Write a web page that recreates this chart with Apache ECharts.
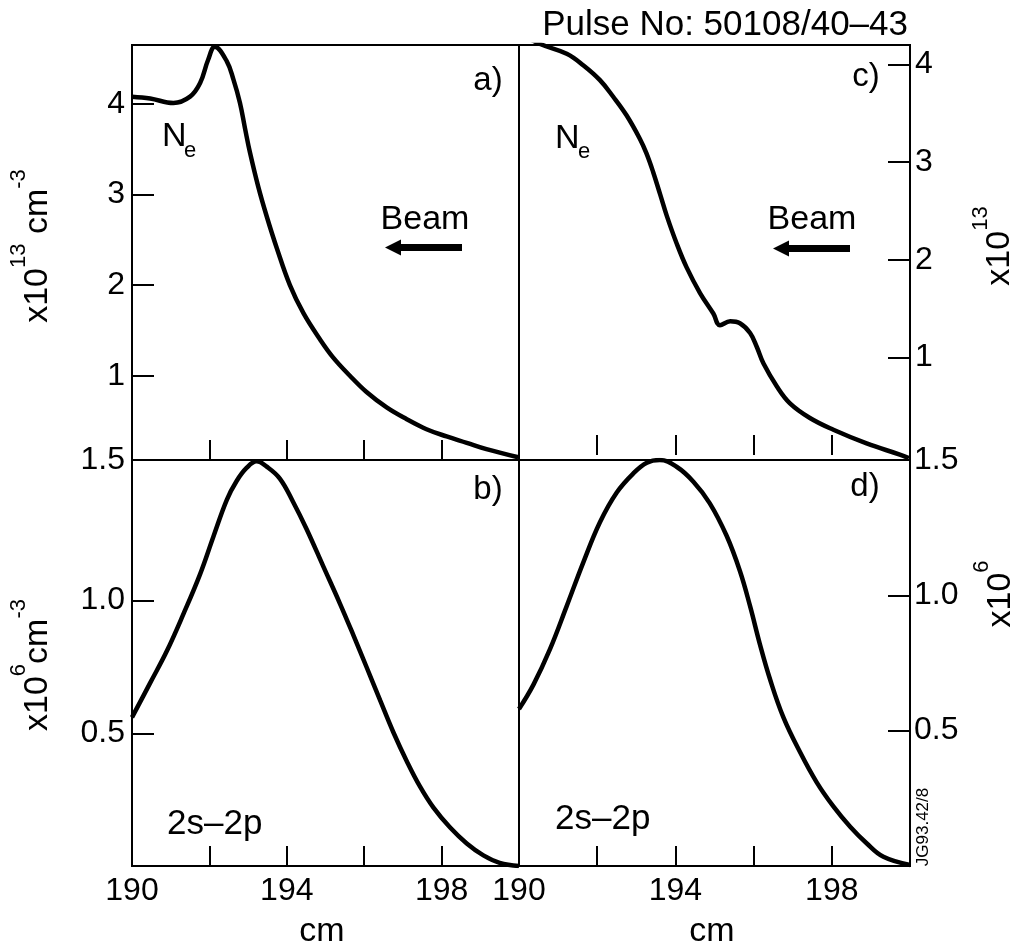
<!DOCTYPE html>
<html><head><meta charset="utf-8">
<script src="https://cdn.jsdelivr.net/npm/echarts@6/dist/echarts.min.js"></script>
<style>html,body{margin:0;padding:0;background:#fff}#c{width:1018px;height:949px}</style>
</head><body><div id="c"></div>
<script>
const FONT = 'Liberation Sans, Arial, Helvetica, sans-serif';

// tick labels
const xTickLabels = [190, 194, 198];
const neTickValues = [1, 2, 3, 4];
const lineTickValues = [0.5, 1.0];
const lineLabelValuesB = [0.5, 1.0, 1.53];
const lineLabelValuesD = [0.5, 1.0, 1.5];

// panel a) electron density (x10^13 cm^-3) vs position (cm)
const aPos = [190.0,190.47,191.07,191.5,191.76,191.97,192.14,192.45,192.62,192.79,192.92,193.05,193.26,193.48,193.74,194.08,194.43,194.86,195.2,195.63,196.06,196.58,197.1,197.61,198.13,198.65,199.16,199.98];
const aNe  = [4.08,4.06,4.01,4.08,4.23,4.49,4.63,4.47,4.27,4.01,3.73,3.46,3.09,2.76,2.41,2.00,1.69,1.40,1.20,1.00,0.82,0.65,0.52,0.41,0.33,0.26,0.19,0.10];

// panel c) electron density (x10^13)
const cPos = [190.0,190.54,191.22,191.65,192.07,192.41,192.75,193.09,193.26,193.43,193.61,193.78,194.03,194.29,194.63,194.97,195.14,195.4,195.65,195.91,196.08,196.25,196.6,196.93,197.44,198.04,198.89,199.74,199.97];
const cNe  = [4.32,4.21,4.11,3.99,3.84,3.67,3.48,3.24,3.09,2.90,2.67,2.45,2.17,1.92,1.66,1.45,1.33,1.37,1.35,1.25,1.11,0.94,0.70,0.53,0.38,0.26,0.12,0.005,-0.03];

// panel b) 2s-2p population (x10^6 cm^-3)
const bPos = [190.0,190.47,190.9,191.33,191.76,192.1,192.45,192.7,192.96,193.22,193.48,193.82,194.17,194.51,194.94,195.37,195.72,196.06,196.41,196.75,197.1,197.44,197.79,198.22,198.65,199.08,199.5,200];
const bVal = [0.56,0.69,0.81,0.95,1.10,1.24,1.38,1.45,1.50,1.525,1.505,1.46,1.37,1.27,1.13,0.99,0.87,0.75,0.625,0.505,0.395,0.30,0.22,0.145,0.085,0.04,0.012,0.0];

// panel d) 2s-2p population (x10^6)
const dPos = [190,190.37,190.79,191.22,191.64,192.07,192.5,192.92,193.27,193.6,194.03,194.46,194.88,195.31,195.65,195.91,196.16,196.42,196.76,197.19,197.61,198.04,198.47,198.89,199.32,200];
const dVal = [0.58,0.67,0.80,0.96,1.12,1.27,1.38,1.45,1.49,1.50,1.475,1.42,1.34,1.22,1.09,0.96,0.82,0.69,0.55,0.42,0.31,0.22,0.145,0.084,0.034,0.004];

const zip = (xs, ys) => xs.map((x, i) => [x, ys[i]]);

const gridBase = {show: true, borderColor: '#000', borderWidth: 2, backgroundColor: 'transparent'};
const lbl = {color: '#000', fontSize: 32, fontFamily: FONT};

function xAx(gi, withLabels) {
  return {
    type: 'value', gridIndex: gi, min: 190, max: 200, interval: 2,
    axisLine: {show: false}, splitLine: {show: false},
    axisTick: {inside: true, length: 20, lineStyle: {color: '#000', width: 2}},
    axisLabel: withLabels ? Object.assign({customValues: xTickLabels, margin: 9}, lbl) : {show: false}
  };
}
function yAx(gi, pos, min, max, ticks, labels, fmt, margin) {
  return {
    type: 'value', gridIndex: gi, position: pos, min: min, max: max,
    axisLine: {show: false}, splitLine: {show: false},
    axisTick: {inside: true, length: 22, customValues: ticks, lineStyle: {color: '#000', width: 2}},
    axisLabel: Object.assign({customValues: labels, formatter: fmt, margin: margin}, lbl)
  };
}
const intFmt = v => String(Math.round(v));
const decFmt = v => (Math.round(v * 10) / 10).toFixed(1);

function lineSeries(xi, data) {
  return {
    type: 'line', xAxisIndex: xi, yAxisIndex: xi, data: data,
    showSymbol: false, smooth: 0.4, clip: true,
    lineStyle: {color: '#000', width: 4.5}, silent: true, animation: false
  };
}

function txt(x, y, text, size, align, extra) {
  return Object.assign({
    type: 'text', x: x, y: y, silent: true, z: 100,
    style: {text: text, fontSize: size, fontFamily: FONT, fill: '#000', align: align || 'center', verticalAlign: 'middle'}
  }, extra || {});
}

// rotated axis titles built from pieces (normal + superscript)
const measureCtx = document.createElement('canvas').getContext('2d');
function measure(text, size) {
  measureCtx.font = size + 'px ' + FONT;
  return measureCtx.measureText(text).width;
}
function rotTitle(xBase, yCenter, pieces) {
  const BIG = 34, SUP = 22;
  const widths = pieces.map(p => measure(p[0], p[1] ? SUP : BIG));
  const total = widths.reduce((s, w) => s + w, 0);
  let cur = yCenter + total / 2;
  return pieces.map((p, i) => {
    const el = {
      type: 'text', x: p[1] ? xBase - 19.5 : xBase, y: cur, rotation: Math.PI / 2, silent: true, z: 100,
      style: {text: p[0], fontSize: p[1] ? SUP : BIG, fontFamily: FONT, fill: '#000', align: 'left', verticalAlign: 'middle'}
    };
    cur -= widths[i];
    return el;
  });
}
function arrow(tipX, cy, endX) {
  const hb = tipX + 16;
  return {
    type: 'polygon', silent: true, z: 100,
    shape: {points: [[tipX, cy], [hb, cy - 8], [hb, cy - 3.5], [endX, cy - 3.5], [endX, cy + 3.5], [hb, cy + 3.5], [hb, cy + 8]]},
    style: {fill: '#000'}
  };
}

const chart = echarts.init(document.getElementById('c'), null, {renderer: 'canvas'});
chart.setOption({
  backgroundColor: '#fff',
  animation: false,
  grid: [
    Object.assign({left: 132, top: 45, width: 387, height: 415}, gridBase),
    Object.assign({left: 519, top: 45, width: 391, height: 415}, gridBase),
    Object.assign({left: 132, top: 460, width: 387, height: 406}, gridBase),
    Object.assign({left: 519, top: 460, width: 391, height: 406}, gridBase)
  ],
  xAxis: [xAx(0, false), xAx(1, false), xAx(2, true), xAx(3, true)],
  yAxis: [
    yAx(0, 'left', 0.07, 4.65, neTickValues, neTickValues, intFmt, 7),
    yAx(1, 'right', -0.05, 4.2, neTickValues, neTickValues, intFmt, 5),
    yAx(2, 'left', 0, 1.53, lineTickValues, lineLabelValuesB, decFmt, 7),
    yAx(3, 'right', 0, 1.5, lineTickValues, lineLabelValuesD, decFmt, 4)
  ],
  series: [
    lineSeries(0, zip(aPos, aNe)),
    lineSeries(1, zip(cPos, cNe)),
    lineSeries(2, zip(bPos, bVal)),
    lineSeries(3, zip(dPos, dVal))
  ],
  graphic: [
    txt(908, 25, 'Pulse No: 50108/40\u201343', 35, 'right'),
    txt(488, 81, 'a)', 33),
    txt(866, 77, 'c)', 33),
    txt(488, 490, 'b)', 33),
    txt(865, 487, 'd)', 33),
    txt(162, 137, 'N', 34, 'left'),
    txt(184, 151, 'e', 22, 'left'),
    txt(555, 139, 'N', 34, 'left'),
    txt(578, 152, 'e', 22, 'left'),
    txt(425, 220, 'Beam', 34),
    txt(812, 220, 'Beam', 34),
    arrow(385, 247.5, 462),
    arrow(773, 248.5, 850),
    txt(167, 824, '2s\u20132p', 35, 'left'),
    txt(555, 819, '2s\u20132p', 35, 'left'),
    txt(322, 932, 'cm', 34),
    txt(712, 932, 'cm', 34),
    ...rotTitle(38, 246, [['x10', false], ['13', true], [' cm', false], ['-3', true]]),
    ...rotTitle(38, 665, [['x10', false], ['6', true], ['cm', false], ['-3', true]]),
    ...rotTitle(1000, 246, [['x10', false], ['13', true]]),
    ...rotTitle(1001, 594, [['x10', false], ['6', true]]),
    txt(923, 827, 'JG93.42/8', 17, 'center', {rotation: Math.PI / 2})
  ]
});
</script>
</body></html>
